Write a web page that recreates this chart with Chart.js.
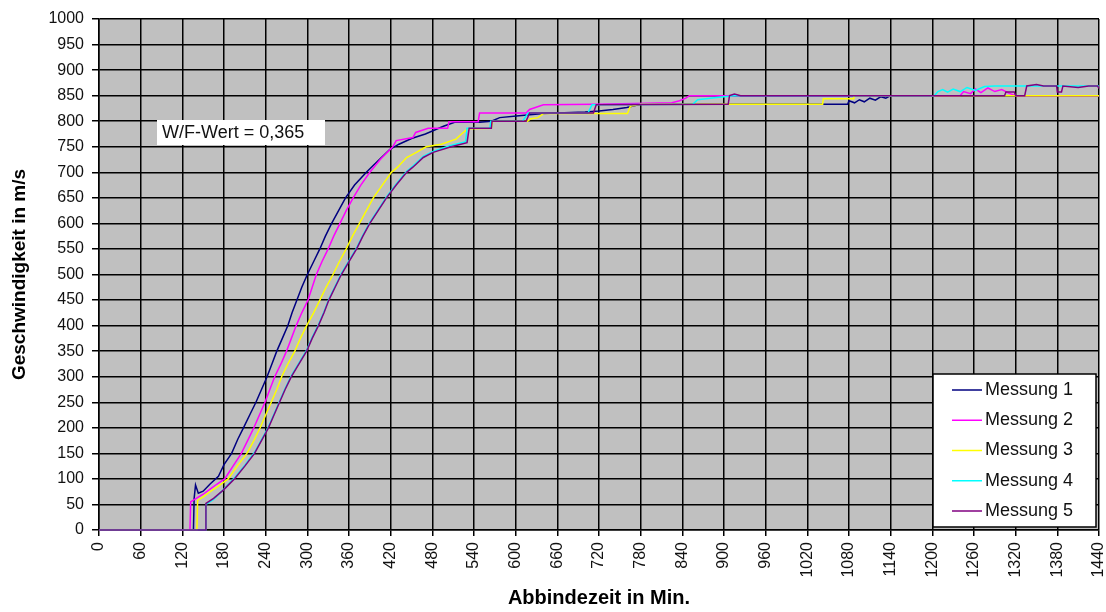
<!DOCTYPE html>
<html>
<head>
<meta charset="utf-8">
<script src="https://cdn.jsdelivr.net/npm/chart.js@4.4.0/dist/chart.umd.min.js"></script>
<style>
html, body { margin: 0; padding: 0; background: #fff; }
#chart { display: block; }
</style>
</head>
<body>
<canvas id="chart" width="1106" height="612"></canvas>
<script>
const seriesLabels = ['Messung 1', 'Messung 2', 'Messung 3', 'Messung 4', 'Messung 5'];
const seriesColors = ['#000080', '#ff00ff', '#ffff00', '#00ffff', '#800080'];

const xTicks = [0, 60, 120, 180, 240, 300, 360, 420, 480, 540, 600, 660, 720, 780, 840, 900, 960, 1020, 1080, 1140, 1200, 1260, 1320, 1380, 1440];
const yTicks = [0, 50, 100, 150, 200, 250, 300, 350, 400, 450, 500, 550, 600, 650, 700, 750, 800, 850, 900, 950, 1000];

const noteText = 'W/F-Wert = 0,365';

// Messung 1
const m1Time = [0, 136, 137, 139, 143, 150, 160, 172, 180, 191, 200, 208, 217, 226, 234, 242, 249, 256, 264, 272,
  278, 285, 292, 300, 309, 318, 326, 335, 345, 355, 368, 385, 400, 419, 432, 450, 470, 496, 512, 548,
  565, 577, 601, 640, 700, 720, 740, 760, 780, 1078, 1080, 1088, 1095, 1102, 1110, 1118, 1126, 1133, 1140, 1440];
const m1Speed = [0, 0, 62, 88, 72, 76, 90, 105, 128, 150, 178, 200, 225, 250, 275, 300, 325, 350, 375, 400,
  425, 450, 475, 500, 525, 550, 575, 600, 625, 650, 675, 700, 720, 745, 755, 766, 775, 790, 798, 798,
  800, 807, 810, 815, 818, 820, 823, 827, 833, 833, 840, 836, 842, 838, 845, 841, 848, 845, 850, 850];

// Messung 2
const m2Time = [0, 131, 132, 140, 150, 160, 170, 181, 193, 205, 214, 223, 231, 239, 246, 253, 262, 270, 277, 284,
  292, 301, 307, 313, 321, 330, 338, 347, 356, 366, 377, 390, 405, 423, 428, 452, 456, 474, 502, 504,
  546, 548, 615, 620, 640, 716, 825, 836, 845, 850, 1240, 1245, 1255, 1262, 1270, 1280, 1290, 1300, 1310, 1320, 1440];
const m2Speed = [0, 0, 55, 62, 70, 80, 90, 100, 125, 150, 175, 200, 225, 250, 275, 300, 325, 350, 375, 400,
  425, 450, 475, 500, 525, 550, 575, 600, 625, 650, 675, 700, 725, 750, 762, 768, 778, 786, 786, 799,
  799, 816, 816, 823, 832, 833, 836, 840, 845, 850, 850, 858, 854, 863, 856, 865, 858, 862, 855, 850, 850];

// Messung 3
const m3Time = [0, 141, 142, 150, 160, 172, 186, 199, 213, 223, 232, 240, 248, 256, 263, 272, 282, 290, 299, 309,
  318, 327, 337, 346, 356, 365, 375, 385, 395, 408, 421, 430, 443, 457, 471, 493, 514, 522, 531, 565,
  567, 617, 622, 632, 640, 761, 765, 780, 1042, 1043, 1086, 1087, 1440];
const m3Speed = [0, 0, 58, 65, 75, 86, 100, 125, 150, 175, 200, 225, 250, 275, 300, 325, 350, 375, 400, 425,
  450, 475, 500, 525, 550, 575, 600, 625, 650, 675, 700, 710, 729, 739, 750, 755, 765, 775, 785, 786,
  800, 800, 805, 807, 815, 815, 829, 833, 833, 844, 844, 850, 850];

// Messung 4
const m4Time = [0, 153, 154, 165, 180, 195, 210, 224, 234, 244, 252, 260, 268, 277, 288, 299, 307, 316, 324, 331,
  340, 349, 360, 371, 380, 390, 402, 414, 428, 443, 452, 467, 481, 505, 528, 530, 563, 564, 610, 618,
  704, 710, 855, 862, 880, 900, 915, 1203, 1208, 1215, 1222, 1230, 1240, 1250, 1262, 1275, 1290, 1440];
const m4Speed = [0, 0, 50, 60, 80, 102, 127, 152, 177, 202, 227, 252, 277, 302, 327, 352, 377, 402, 427, 452,
  477, 502, 527, 552, 577, 602, 627, 652, 677, 702, 712, 731, 741, 752, 760, 786, 786, 800, 800, 816,
  816, 832, 833, 842, 845, 848, 850, 850, 858, 862, 857, 863, 858, 866, 860, 868, 869, 869];

// Messung 5
const m5Time = [0, 153, 154, 165, 179, 195, 210, 224, 234, 244, 252, 260, 268, 277, 288, 299, 307, 316, 324, 331,
  340, 349, 360, 371, 380, 390, 402, 414, 428, 443, 452, 467, 481, 507, 530, 533, 565, 566, 615, 620,
  712, 716, 906, 908, 915, 924, 1304, 1306, 1318, 1320, 1333, 1336, 1350, 1360, 1379, 1380, 1386, 1388, 1410, 1425,
  1438, 1440];
const m5Speed = [0, 0, 52, 62, 78, 100, 125, 150, 175, 200, 225, 250, 275, 300, 325, 350, 375, 400, 425, 450,
  475, 500, 525, 550, 575, 600, 625, 650, 675, 700, 710, 729, 739, 750, 758, 786, 786, 800, 800, 816,
  816, 832, 833, 850, 853, 850, 850, 857, 857, 850, 850, 869, 872, 869, 869, 857, 857, 869, 866, 869,
  869, 864];

const times = [m1Time, m2Time, m3Time, m4Time, m5Time];
const speeds = [m1Speed, m2Speed, m3Speed, m4Speed, m5Speed];

const fontFamily = '"Liberation Sans", Arial, sans-serif';
Chart.defaults.font.family = fontFamily;
Chart.defaults.color = '#000';

const plotBackground = {
  id: 'plotBackground',
  beforeDraw(chart) {
    const { ctx, chartArea: a } = chart;
    ctx.save();
    ctx.fillStyle = '#c0c0c0';
    ctx.fillRect(a.left, a.top, a.right - a.left, a.bottom - a.top);
    ctx.restore();
  }
};

const notePlugin = {
  id: 'note',
  afterDatasetsDraw(chart) {
    const { ctx, chartArea: a } = chart;
    const left = a.left + 58, top = a.top + 101;
    ctx.save();
    ctx.fillStyle = '#fff';
    ctx.fillRect(left, top, 168, 25);
    ctx.fillStyle = '#111';
    ctx.font = '18px ' + fontFamily;
    ctx.textBaseline = 'middle';
    ctx.fillText(noteText, left + 5, top + 13);
    ctx.restore();
  }
};

const boxLegend = {
  id: 'boxLegend',
  afterDraw(chart) {
    const { ctx, chartArea: a } = chart;
    const w = 163, h = 153;
    const left = a.right - 3 - w, top = a.bottom - 3 - h;
    ctx.save();
    ctx.fillStyle = '#fff';
    ctx.fillRect(left, top, w, h);
    ctx.strokeStyle = '#000';
    ctx.lineWidth = 1.5;
    ctx.strokeRect(left, top, w, h);
    ctx.font = '18px ' + fontFamily;
    ctx.textBaseline = 'middle';
    seriesLabels.forEach((label, i) => {
      const yy = top + 16 + i * 30.25;
      ctx.strokeStyle = seriesColors[i];
      ctx.lineWidth = 1.5;
      ctx.beginPath();
      ctx.moveTo(left + 19, yy);
      ctx.lineTo(left + 49, yy);
      ctx.stroke();
      ctx.fillStyle = '#111';
      ctx.fillText(label, left + 52, yy);
    });
    ctx.restore();
  }
};

const datasets = seriesLabels.map((label, i) => ({
  label: label,
  data: times[i].map((t, j) => ({ x: t, y: speeds[i][j] })),
  borderColor: seriesColors[i],
  borderWidth: 1.5,
  pointRadius: 0,
  tension: 0,
  fill: false,
  clip: 3,
  order: seriesLabels.length - i
}));

new Chart(document.getElementById('chart').getContext('2d'), {
  type: 'line',
  data: { datasets: datasets },
  plugins: [plotBackground, notePlugin, boxLegend],
  options: {
    responsive: false,
    animation: false,
    layout: { padding: { top: 19, right: 0, left: 0, bottom: 0 } },
    plugins: {
      legend: { display: false },
      tooltip: { enabled: false }
    },
    scales: {
      x: {
        type: 'linear',
        min: 0,
        max: 1440,
        afterBuildTicks: s => { s.ticks = xTicks.map(v => ({ value: v })); },
        afterFit: s => {
          s.height = 82;
          s.paddingLeft = 0;
          s.paddingRight = 7;
        },
        ticks: {
          autoSkip: false,
          minRotation: 90,
          maxRotation: 90,
          padding: 6,
          font: { size: 16 },
          color: '#111',
          callback: v => String(v)
        },
        grid: { color: '#000', lineWidth: 1.5, tickLength: 6 },
        border: { color: '#000', width: 1.5 },
        title: {
          display: true,
          text: 'Abbindezeit in Min.',
          font: { size: 20, weight: 'bold' },
          padding: { top: 4, bottom: 2 }
        }
      },
      y: {
        min: 0,
        max: 1000,
        afterBuildTicks: s => { s.ticks = yTicks.map(v => ({ value: v })); },
        afterFit: s => { s.width = 99; },
        ticks: {
          padding: 8,
          font: { size: 16 },
          color: '#111',
          callback: v => String(v)
        },
        grid: { color: '#000', lineWidth: 1.5, tickLength: 7 },
        border: { color: '#000', width: 1.5 },
        title: {
          display: true,
          text: 'Geschwindigkeit in m/s',
          font: { size: 19, weight: 'bold' },
          padding: { top: 8, bottom: 4 }
        }
      }
    }
  }
});
</script>
</body>
</html>
